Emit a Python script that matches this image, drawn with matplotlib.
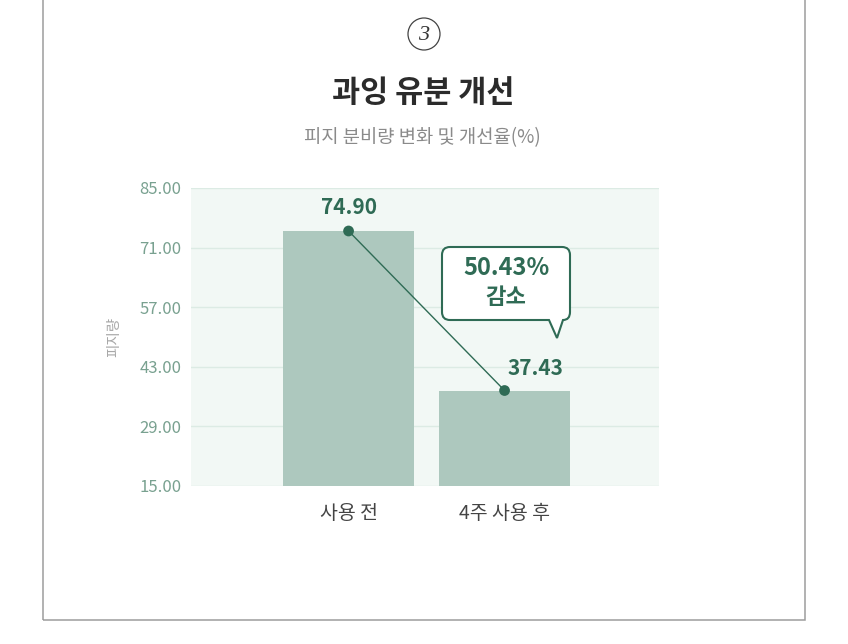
import matplotlib
matplotlib.use("Agg")
import matplotlib.pyplot as plt
from matplotlib.patches import Rectangle, Circle, PathPatch
from matplotlib.path import Path
from matplotlib.transforms import Affine2D

plt.rcParams['font.family'] = ['Noto Sans CJK KR', 'DejaVu Sans']

categories = ['사용 전', '4주 사용 후']
values = [74.90, 37.43]
value_labels = ['74.90', '37.43']
yticks = [15, 29, 43, 57, 71, 85]
ytick_labels = ['15.00', '29.00', '43.00', '57.00', '71.00', '85.00']
title = '과잉 유분 개선'
subtitle = '피지 분비량 변화 및 개선율(%)'
ylabel = '피지량'
callout_value = '50.43%'
callout_word = '감소'
badge = '3'

W, H = 848, 644
DARK = '#2f6b55'
BAR = '#adc8be'
BG = '#f2f8f5'
GRID = '#dcebe4'
TICK = '#79a190'

fig = plt.figure(figsize=(W / 100, H / 100), dpi=100)
px = Affine2D().scale(1 / W, 1 / H) + fig.transFigure

# outer frame
fig.patches.append(Rectangle((43, H - 620), 762, 700, transform=px, fill=False,
                             edgecolor='#9c9c9c', linewidth=1.1))

# badge
fig.patches.append(Circle((424, H - 34), 16, transform=px, fill=False,
                          edgecolor='#444444', linewidth=0.9))
fig.text(424 / W, (H - 35) / H, badge, ha='center', va='center', fontsize=16,
         family='Liberation Serif', style='italic', color='#333333')

fig.text(423 / W, (H - 93) / H, title, ha='center', va='center', fontsize=22,
         fontweight='bold', color='#2b2b2b')
fig.text(422 / W, (H - 138) / H, subtitle, ha='center', va='center', fontsize=13.5,
         color='#8a8a8a')

ax = fig.add_axes([191 / W, (H - 486) / H, 468 / W, 298 / H])
ax.set_facecolor(BG)
ax.set_xlim(-1.01, 1.99)
ax.set_ylim(15, 85)
ax.set_yticks(yticks)
ax.set_yticklabels(ytick_labels)
ax.grid(axis='y', color=GRID, linewidth=1.0)
ax.set_axisbelow(True)
for s in ax.spines.values():
    s.set_visible(False)
ax.tick_params(axis='y', length=0, pad=7, labelsize=12, labelcolor=TICK)
ax.tick_params(axis='x', length=0, pad=12, labelsize=14, labelcolor='#444444')

x = list(range(len(categories)))
ax.bar(x, [v - 15 for v in values], bottom=15, width=0.845, color=BAR, zorder=2)
ax.set_xticks(x)
ax.set_xticklabels(categories)

ax.plot(x, values, color=DARK, linewidth=1.0, zorder=3)
ax.scatter(x, values, s=60, color=DARK, zorder=4, edgecolors='none')

ax.annotate(value_labels[0], (x[0], values[0]), xytext=(0, 23), textcoords='offset pixels',
            ha='center', va='center', fontsize=15, fontweight='bold', color=DARK)
ax.annotate(value_labels[1], (x[1], values[1]), xytext=(31, 22), textcoords='offset pixels',
            ha='center', va='center', fontsize=15, fontweight='bold', color=DARK)

ax.set_ylabel(ylabel, fontsize=10.5, color='#a8a8a8')
ax.yaxis.set_label_coords(-0.148, 0.5)

# callout bubble (pixel coordinates, y up)
l, r, t, b, rad = 442, 570, H - 247, H - 320, 8
tr, tip, tl = 563, (557, H - 338), 549
verts = [
    (l + rad, t), (r - rad, t), (r, t), (r, t - rad),
    (r, b + rad), (r, b), (tr, b),
    tip, (tl, b),
    (l + rad, b), (l, b), (l, b + rad),
    (l, t - rad), (l, t), (l + rad, t),
    (l + rad, t),
]
codes = [
    Path.MOVETO, Path.LINETO, Path.CURVE3, Path.CURVE3,
    Path.LINETO, Path.CURVE3, Path.CURVE3,
    Path.LINETO, Path.LINETO,
    Path.LINETO, Path.CURVE3, Path.CURVE3,
    Path.LINETO, Path.CURVE3, Path.CURVE3,
    Path.CLOSEPOLY,
]
fig.patches.append(PathPatch(Path(verts, codes), transform=px, facecolor='white',
                             edgecolor=DARK, linewidth=1.5, zorder=5))
fig.text(506 / W, (H - 268) / H, callout_value, ha='center', va='center', fontsize=17,
         fontweight='bold', color=DARK, zorder=6)
fig.text(506 / W, (H - 298) / H, callout_word, ha='center', va='center', fontsize=16,
         fontweight='bold', color=DARK, zorder=6)

fig.savefig('out.png', dpi=100, facecolor='white')
